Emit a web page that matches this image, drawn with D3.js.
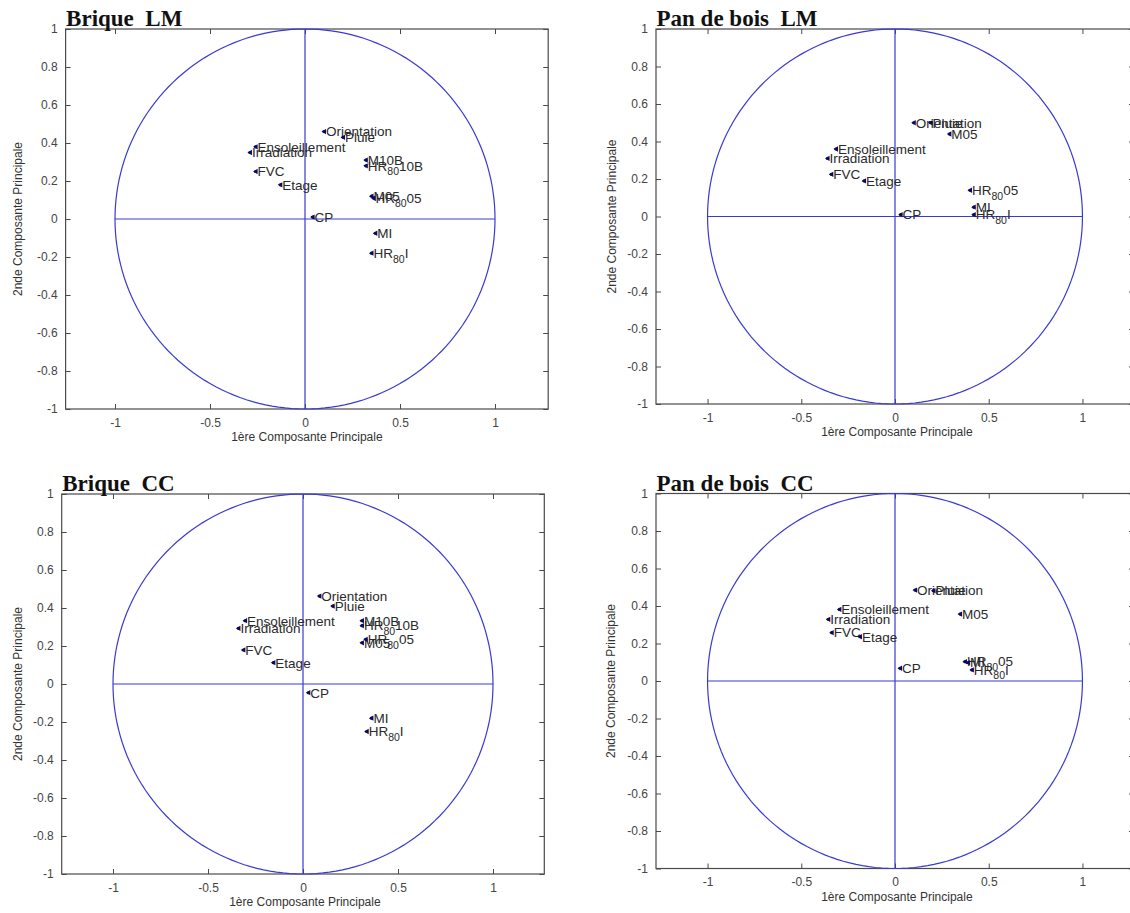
<!DOCTYPE html>
<html>
<head>
<meta charset="utf-8">
<script src="https://cdn.jsdelivr.net/npm/d3@7/dist/d3.min.js"></script>
<style>
  html, body { margin: 0; padding: 0; background: #fff; }
  svg { display: block; }
</style>
</head>
<body>
<svg id="chart" width="1130" height="913"></svg>
<script>
// ---------- data ----------
const titles = ["Brique  LM", "Pan de bois  LM", "Brique  CC", "Pan de bois  CC"];
const xTickValues = [-1, -0.5, 0, 0.5, 1];
const yTickValues = [-1, -0.8, -0.6, -0.4, -0.2, 0, 0.2, 0.4, 0.6, 0.8, 1];
const xAxisTitle = "1ère Composante Principale";
const yAxisTitle = "2nde Composante Principale";

// Brique LM
const varsBriqueLM = ["Orientation","Pluie","Ensoleillement","Irradiation","FVC","Etage","CP","M10B","HR_80_10B","M05","HR_80_05","MI","HR_80_I"];
const pc1BriqueLM = [0.10, 0.20, -0.26, -0.29, -0.26, -0.13, 0.04, 0.32, 0.32, 0.35, 0.36, 0.37, 0.35];
const pc2BriqueLM = [0.46, 0.43, 0.38, 0.35, 0.25, 0.18, 0.01, 0.31, 0.28, 0.12, 0.11, -0.075, -0.18];

// Pan de bois LM
const varsBoisLM = ["Orientation","Pluie","M05","Ensoleillement","Irradiation","FVC","Etage","CP","HR_80_05","MI","HR_80_I"];
const pc1BoisLM = [0.10, 0.19, 0.29, -0.315, -0.36, -0.34, -0.165, 0.03, 0.40, 0.42, 0.42];
const pc2BoisLM = [0.50, 0.50, 0.44, 0.36, 0.31, 0.225, 0.19, 0.01, 0.14, 0.05, 0.01];

// Brique CC
const varsBriqueCC = ["Orientation","Pluie","Ensoleillement","Irradiation","FVC","Etage","CP","M10B","HR_80_10B","M05","HR_80_05","MI","HR_80_I"];
const pc1BriqueCC = [0.086, 0.156, -0.305, -0.34, -0.314, -0.156, 0.028, 0.31, 0.31, 0.31, 0.33, 0.36, 0.335];
const pc2BriqueCC = [0.463, 0.41, 0.333, 0.293, 0.179, 0.112, -0.046, 0.333, 0.307, 0.217, 0.235, -0.18, -0.25];

// Pan de bois CC
const varsBoisCC = ["Orientation","Pluie","M05","Ensoleillement","Irradiation","FVC","Etage","CP","HR_80_05","MI","HR_80_I"];
const pc1BoisCC = [0.107, 0.205, 0.347, -0.297, -0.356, -0.338, -0.187, 0.027, 0.373, 0.39, 0.41];
const pc2BoisCC = [0.485, 0.482, 0.357, 0.382, 0.329, 0.258, 0.236, 0.068, 0.103, 0.098, 0.059];

// ---------- layout ----------
const panels = [
  { title: titles[0], vars: varsBriqueLM, xs: pc1BriqueLM, ys: pc2BriqueLM,
    xDom: [-1.26, 1.28], xRange: [65.6, 548.2], yRange: [409, 29], yLabX: 18, xLabY: 441 },
  { title: titles[1], vars: varsBoisLM, xs: pc1BoisLM, ys: pc2BoisLM,
    xDom: [-1.275, 1.275], xRange: [656, 1134], yRange: [404, 29], yLabX: 612, xLabY: 436 },
  { title: titles[2], vars: varsBriqueCC, xs: pc1BriqueCC, ys: pc2BriqueCC,
    xDom: [-1.27, 1.27], xRange: [61.7, 544.3], yRange: [874, 494], yLabX: 18, xLabY: 906 },
  { title: titles[3], vars: varsBoisCC, xs: pc1BoisCC, ys: pc2BoisCC,
    xDom: [-1.275, 1.275], xRange: [656, 1134], yRange: [868.5, 493.5], yLabX: 611, xLabY: 901 }
];

const BLUE = "#3a3ad2";
const BOX = "#4a4a4a";
const TXT = "#2a2a2a";
const MARK = "#0a0a60";
const sansFont = "'Liberation Sans', Arial, sans-serif";

const svg = d3.select("#chart");
const markerPath = d3.symbol().type(d3.symbolTriangle).size(12)();

panels.forEach(p => {
  const x = d3.scaleLinear().domain(p.xDom).range(p.xRange);
  const y = d3.scaleLinear().domain([-1, 1]).range(p.yRange);
  const g = svg.append("g");

  const [x0, x1] = p.xRange;
  const [yb, yt] = p.yRange;

  // box
  g.append("rect")
    .attr("x", x0).attr("y", yt)
    .attr("width", x1 - x0).attr("height", yb - yt)
    .attr("fill", "none").attr("stroke", BOX).attr("stroke-width", 1.2);

  // axes (inward ticks)
  const bottom = g.append("g").attr("transform", `translate(0,${yb})`)
    .call(d3.axisBottom(x).tickValues(xTickValues).tickSize(-5).tickPadding(9).tickFormat(d => String(d)));
  const top = g.append("g").attr("transform", `translate(0,${yt})`)
    .call(d3.axisTop(x).tickValues(xTickValues).tickSize(-5).tickFormat(""));
  const left = g.append("g").attr("transform", `translate(${x0},0)`)
    .call(d3.axisLeft(y).tickValues(yTickValues).tickSize(-5).tickPadding(8).tickFormat(d => String(d)));
  const right = g.append("g").attr("transform", `translate(${x1},0)`)
    .call(d3.axisRight(y).tickValues(yTickValues).tickSize(-5).tickFormat(""));
  [bottom, top, left, right].forEach(a => {
    a.select(".domain").remove();
    a.selectAll(".tick line").attr("stroke", BOX);
    a.selectAll("text").attr("fill", "#444").style("font-family", sansFont).style("font-size", "12px");
  });

  // unit circle
  const angles = d3.range(0, 361, 2).map(a => a * Math.PI / 180);
  g.append("path")
    .datum(angles)
    .attr("d", d3.line().x(a => x(Math.cos(a))).y(a => y(Math.sin(a))))
    .attr("fill", "none").attr("stroke", BLUE).attr("stroke-width", 1.2);
  // cross lines
  g.append("line").attr("x1", x(-1)).attr("x2", x(1)).attr("y1", y(0)).attr("y2", y(0))
    .attr("stroke", BLUE).attr("stroke-width", 1.2);
  g.append("line").attr("x1", x(0)).attr("x2", x(0)).attr("y1", y(-1)).attr("y2", y(1))
    .attr("stroke", BLUE).attr("stroke-width", 1.2);

  // points + labels
  const pts = p.vars.map((v, i) => ({ name: v, px: p.xs[i], py: p.ys[i] }));
  const pg = g.selectAll("g.pt").data(pts).enter().append("g").attr("class", "pt");
  pg.append("path")
    .attr("d", markerPath)
    .attr("transform", d => `translate(${x(d.px) + 0.5},${y(d.py)}) rotate(-90)`)
    .attr("fill", MARK);
  pg.append("circle")
    .attr("cx", d => x(d.px)).attr("cy", d => y(d.py)).attr("r", 1.6)
    .attr("fill", MARK);
  const t = pg.append("text")
    .attr("x", d => x(d.px) + 2)
    .attr("y", d => y(d.py) + 4.8)
    .attr("fill", TXT)
    .style("font-family", sansFont).style("font-size", "13.5px");
  t.each(function(d) {
    const el = d3.select(this);
    if (d.name.startsWith("HR_80_")) {
      el.append("tspan").text("HR");
      el.append("tspan").attr("dy", 4.5).style("font-size", "10.5px").text("80");
      el.append("tspan").attr("dy", -4.5).text(d.name.slice(6));
    } else {
      el.text(d.name);
    }
  });

  // axis titles
  g.append("text")
    .attr("x", x(0.01)).attr("y", p.xLabY)
    .attr("text-anchor", "middle").attr("fill", "#333")
    .style("font-family", sansFont).style("font-size", "12px")
    .text(xAxisTitle);
  g.append("text")
    .attr("transform", `translate(${p.yLabX},${y(0)}) rotate(-90)`)
    .attr("text-anchor", "middle").attr("dy", "0.35em").attr("fill", "#333")
    .style("font-family", sansFont).style("font-size", "12px")
    .text(yAxisTitle);

  // panel title
  g.append("text")
    .attr("x", x0 + 0.5).attr("y", yt - 3)
    .attr("fill", "#111")
    .style("font-family", "'Liberation Serif', 'DejaVu Serif', serif")
    .style("font-weight", "bold").style("font-size", "23px")
    .style("white-space", "pre")
    .attr("xml:space", "preserve")
    .text(p.title);
});
</script>
</body>
</html>
